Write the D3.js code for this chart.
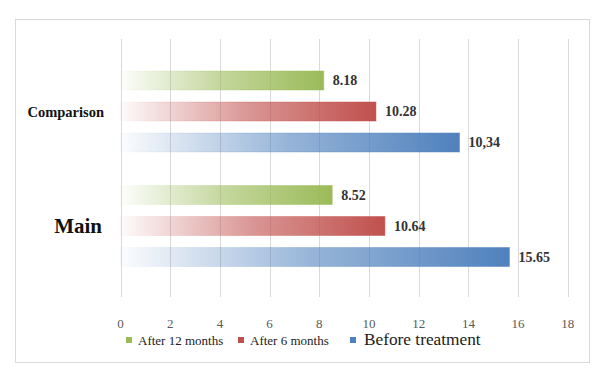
<!DOCTYPE html>
<html>
<head>
<meta charset="utf-8">
<script src="https://cdn.jsdelivr.net/npm/d3@7"></script>
<style>
  body { margin: 0; background: #fff; }
  svg text { font-family: "Liberation Serif", "Times New Roman", serif; }
</style>
</head>
<body>
<svg id="chart" width="606" height="378"></svg>
<script>
const categories = ["Comparison", "Main"];
const seriesNames = ["After 12 months", "After 6 months", "Before treatment"];
const values = {
  "Comparison": [8.18, 10.28, 13.64],
  "Main": [8.52, 10.64, 15.65]
};
const valueLabels = {
  "Comparison": ["8.18", "10.28", "10,34"],
  "Main": ["8.52", "10.64", "15.65"]
};
const ticks = [0, 2, 4, 6, 8, 10, 12, 14, 16, 18];
const colors = ["#9bbb59", "#c0504d", "#4f81bd"];

const svg = d3.select("#chart");

// outer frame
svg.append("rect")
  .attr("x", 15.5).attr("y", 19.5)
  .attr("width", 574).attr("height", 343)
  .attr("fill", "#fff")
  .attr("stroke", "#d9d9d9");

const x = d3.scaleLinear().domain([0, 18]).range([120.5, 567.8]);
const y = d3.scaleBand().domain(categories).range([54.25, 283.25]);
const inner = d3.scaleBand().domain(seriesNames)
  .range([0, 81]).paddingInner(12 / 31).paddingOuter(0);

const gridTop = 39, gridBottom = 297;

// gradients
const defs = svg.append("defs");
colors.forEach((c, i) => {
  const g = defs.append("linearGradient")
    .attr("id", "grad" + i)
    .attr("x1", 0).attr("x2", 1).attr("y1", 0).attr("y2", 0);
  g.append("stop").attr("offset", 0).attr("stop-color", c).attr("stop-opacity", 0.02);
  g.append("stop").attr("offset", 0.5).attr("stop-color", c).attr("stop-opacity", 0.6);
  g.append("stop").attr("offset", 1).attr("stop-color", c).attr("stop-opacity", 1);
});

// gridlines
svg.append("g")
  .selectAll("line")
  .data(ticks)
  .join("line")
  .attr("x1", d => Math.round(x(d)) + 0.5)
  .attr("x2", d => Math.round(x(d)) + 0.5)
  .attr("y1", gridTop)
  .attr("y2", gridBottom)
  .attr("stroke", "#d9d9d9");

// tick labels
svg.append("g")
  .selectAll("text")
  .data(ticks)
  .join("text")
  .attr("x", d => x(d))
  .attr("y", 328)
  .attr("text-anchor", "middle")
  .attr("font-size", 13)
  .attr("fill", "#595959")
  .text(d => d);

// bars
categories.forEach(cat => {
  const g = svg.append("g").attr("transform", `translate(0,${y(cat) + (y.bandwidth() - 81) / 2})`);
  const rows = seriesNames.map((s, i) => ({ s, i, v: values[cat][i], label: valueLabels[cat][i] }));

  g.selectAll("rect")
    .data(rows)
    .join("rect")
    .attr("x", x(0))
    .attr("y", d => inner(d.s))
    .attr("width", d => x(d.v) - x(0))
    .attr("height", inner.bandwidth())
    .attr("fill", d => `url(#grad${d.i})`)
    .attr("stroke", d => `url(#grad${d.i})`)
    .attr("stroke-opacity", 0.5)
    .attr("stroke-width", 1);

  g.selectAll("text")
    .data(rows)
    .join("text")
    .attr("x", d => x(d.v) + 9)
    .attr("y", d => inner(d.s) + inner.bandwidth() / 2)
    .attr("dy", "0.35em")
    .attr("font-size", 14)
    .attr("font-weight", "bold")
    .attr("fill", "#333")
    .text(d => d.label);
});

// category labels
svg.append("text")
  .attr("x", 104).attr("y", y("Comparison") + y.bandwidth() / 2)
  .attr("dy", "0.35em")
  .attr("text-anchor", "end")
  .attr("font-size", 14.5)
  .attr("font-weight", "bold")
  .attr("fill", "#111")
  .text("Comparison");

svg.append("text")
  .attr("x", 102).attr("y", y("Main") + y.bandwidth() / 2)
  .attr("dy", "0.35em")
  .attr("text-anchor", "end")
  .attr("font-size", 21)
  .attr("font-weight", "bold")
  .attr("fill", "#111")
  .text("Main");

// legend
const legendItems = [
  { name: seriesNames[0], c: colors[0], x: 126, size: 13 },
  { name: seriesNames[1], c: colors[1], x: 238, size: 13 },
  { name: seriesNames[2], c: colors[2], x: 350, size: 17.3 }
];
const lg = svg.append("g");
legendItems.forEach(d => {
  lg.append("rect")
    .attr("x", d.x).attr("y", 337)
    .attr("width", 6).attr("height", 6)
    .attr("fill", d.c);
  lg.append("text")
    .attr("x", d.x + (d.size > 14 ? 14 : 12))
    .attr("y", 345)
    .attr("font-size", d.size)
    .attr("fill", "#222")
    .text(d.name);
});
</script>
</body>
</html>
